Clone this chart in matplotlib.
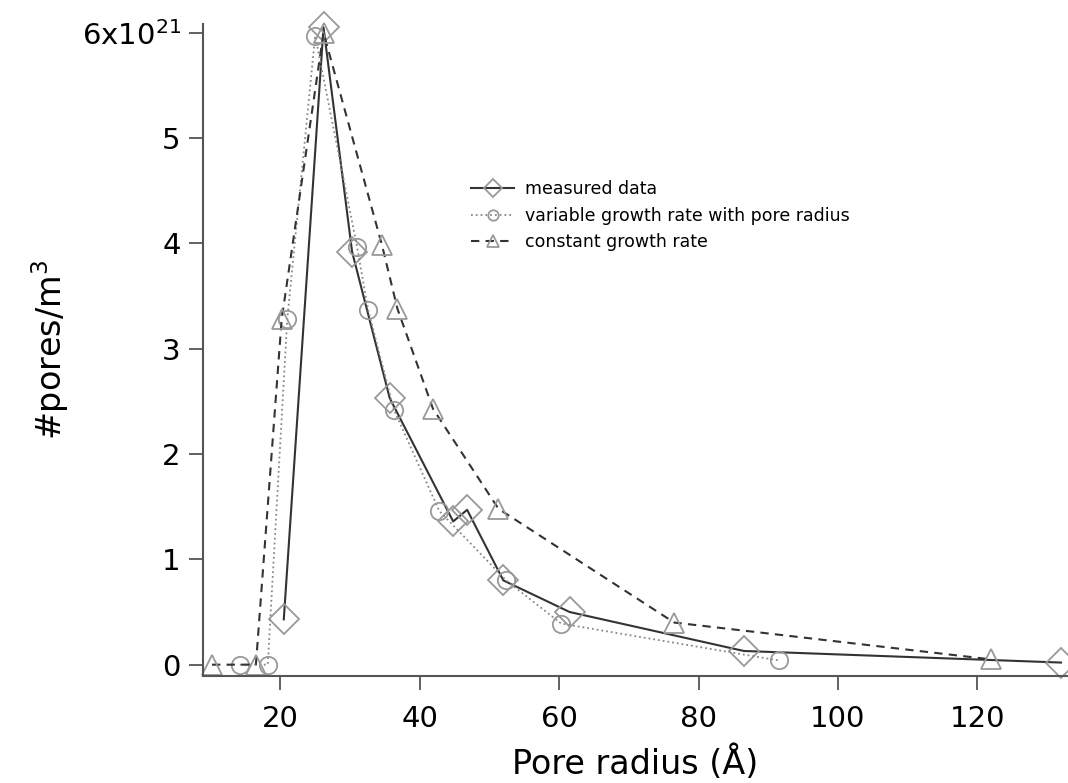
import numpy as np
import matplotlib.pyplot as plt

# values in units of 1e21 pores/m^3, radius in Angstrom
measured_r = [20.5, 26.2, 30.3, 35.7, 44.8, 46.8, 52.0, 61.5, 86.5, 132.0]
measured_n = [0.43, 6.05, 3.92, 2.53, 1.36, 1.47, 0.80, 0.50, 0.13, 0.02]

variable_r = [14.2, 18.2, 21.0, 25.0, 31.0, 32.6, 36.3, 42.8, 52.4, 60.3, 91.5]
variable_n = [0.0, 0.0, 3.28, 5.97, 3.97, 3.37, 2.42, 1.46, 0.80, 0.39, 0.04]

constant_r = [10.2, 16.5, 20.2, 26.2, 34.6, 36.8, 41.9, 51.3, 76.5, 122.0]
constant_n = [0.0, 0.0, 3.28, 6.0, 3.98, 3.38, 2.43, 1.48, 0.40, 0.05]

yticks = [0, 1, 2, 3, 4, 5, 6]
ytick_labels = ['0', '1', '2', '3', '4', '5', '6x10$^{21}$']
xticks = [20, 40, 60, 80, 100, 120]

plt.rcParams['font.family'] = 'DejaVu Sans'
plt.rcParams['mathtext.default'] = 'regular'

fig = plt.figure(figsize=(10.68, 7.83), dpi=100)
ax = fig.add_axes([0.19, 0.137, 0.81, 0.832])

mcol = '#999999'
ax.plot(measured_r, measured_n, '-', color='#333333', lw=1.5, marker='D', ms=15,
        mfc='none', mec=mcol, mew=1.3, label='measured data', clip_on=False)
ax.plot(variable_r, variable_n, ':', color='#888888', lw=1.3, marker='o', ms=12.5,
        mfc='none', mec=mcol, mew=1.3, label='variable growth rate with pore radius', clip_on=False)
ax.plot(constant_r, constant_n, '--', color='#333333', lw=1.5, marker='^', ms=14,
        mfc='none', mec=mcol, mew=1.3, label='constant growth rate', clip_on=False,
        dashes=(4, 3))

ax.set_xlim(8.9, 133)
ax.set_ylim(-0.105, 6.08)
ax.set_xticks(xticks)
ax.set_yticks(yticks)
ax.set_yticklabels(ytick_labels)

for s in ['top', 'right']:
    ax.spines[s].set_visible(False)
for s in ['left', 'bottom']:
    ax.spines[s].set_color('#555555')
    ax.spines[s].set_linewidth(1.5)
ax.tick_params(direction='out', length=10, width=1.3, color='#555555',
               labelsize=21, pad=6)
ax.tick_params(axis='x', pad=11)

ax.set_xlabel('Pore radius (Å)', fontsize=24, labelpad=9)
ax.set_ylabel('#pores/m$^3$', fontsize=24, labelpad=8)

ax.legend(loc='upper left', bbox_to_anchor=(0.31, 0.761), frameon=False,
          fontsize=12.5, handlelength=2.5, handletextpad=0.6, labelspacing=0.5,
          borderpad=0, borderaxespad=0, markerscale=0.6)

fig.savefig('out.png', dpi=100)
